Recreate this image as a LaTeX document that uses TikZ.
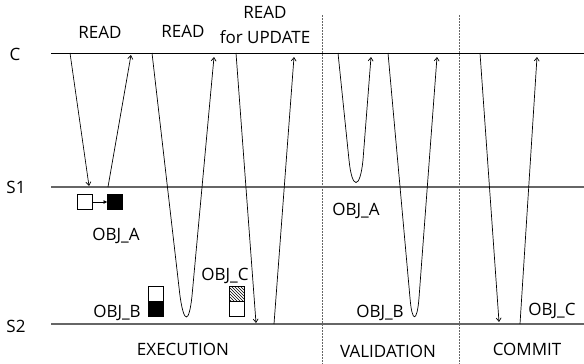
\documentclass[tikz,border=0pt]{standalone}
\usepackage{fontspec}
\setmainfont{Open Sans}
\usetikzlibrary{arrows.meta,patterns}
\begin{document}
\begin{tikzpicture}[x=1pt,y=-1pt,
  lbl/.style={anchor=base,inner sep=0pt,font=\fontsize{17}{19}\selectfont},
  lvl/.style={line width=1.2pt,draw=black!60},
  top/.style={line width=0.9pt,draw=black},
  phase/.style={line width=0.7pt,draw=black!60,dash pattern=on 1.5pt off 1.5pt},
  msg/.style={line width=0.7pt,-{Straight Barb[length=3.5pt,width=5pt]}},
  box/.style={draw=black,line width=0.6pt,minimum width=15pt,minimum height=15pt,inner sep=0pt,outer sep=0pt}]
\useasboundingbox (0,0) rectangle (584,364);
% levels
\coordinate (cL) at (51,53); \coordinate (cR) at (584,53);
\coordinate (s1L) at (51,187); \coordinate (s1R) at (584,187);
\coordinate (s2L) at (51,324); \coordinate (s2R) at (584,324);
\draw[top] (cL) -- (cR);
\draw[lvl] (s1L) -- (s1R);
\draw[lvl] (s2L) -- (s2R);
\node[lbl] (lc) at (15,60) {C};
\node[lbl] (ls1) at (16,193) {S1};
\node[lbl] (ls2) at (16,332) {S2};
% phase separators
\coordinate (d1t) at (322,15); \coordinate (d1b) at (322,364);
\coordinate (d2t) at (459,15); \coordinate (d2b) at (459,364);
\draw[phase] (d1t) -- (d1b);
\draw[phase] (d2t) -- (d2b);
% top labels
\node[lbl] (r1) at (100,38) {READ};
\node[lbl] (r2) at (183,37) {READ};
\node[lbl] (r3) at (265,18) {READ};
\node[lbl] (r3b) at (265,43) {for UPDATE};
% READ 1
\coordinate (a1) at (70,53); \coordinate (a2) at (89,186);
\coordinate (a3) at (108,187); \coordinate (a4) at (131,55);
\draw[msg] (a1) -- (a2);
\draw[msg] (a3) -- (a4);
% READ 2
\coordinate (b1) at (152,53); \coordinate (b2) at (214,57);
\draw[msg] (b1) -- (180,296) .. controls (184,324) and (189,324) .. (192,296) -- (b2);
% READ for UPDATE
\coordinate (u1) at (236,53); \coordinate (u2) at (256,323);
\coordinate (u3) at (274,324); \coordinate (u4) at (294,57);
\draw[msg] (u1) -- (u2);
\draw[msg] (u3) -- (u4);
% VALIDATION
\coordinate (v1) at (338,53); \coordinate (v2) at (371,57);
\draw[msg] (v1) -- (349,160) .. controls (352,190) and (360,190) .. (363,160) -- (v2);
\coordinate (w1) at (388,53); \coordinate (w2) at (437,57);
\draw[msg] (w1) -- (410,298) .. controls (412,323) and (417,323) .. (419,298) -- (w2);
% COMMIT
\coordinate (k1) at (480,53); \coordinate (k2) at (499,322);
\coordinate (k3) at (520,324); \coordinate (k4) at (537,57);
\draw[msg] (k1) -- (k2);
\draw[msg] (k3) -- (k4);
% objects
\node[box,fill=white] (oa1) at (84.5,202) {};
\node[box,fill=black] (oa2) at (115,202) {};
\draw[line width=0.6pt,-{Latex[length=4pt,width=4pt]}] (oa1.east) -- (oa2.west);
\node[box,fill=white] (ob1) at (155.5,293.5) {};
\node[box,fill=black,anchor=north] (ob2) at (ob1.south) {};
\node[box,pattern=north west lines] (oc1) at (237,293.5) {};
\node[box,fill=white,anchor=north] (oc2) at (oc1.south) {};
% object labels
\node[lbl] (ta1) at (116,240) {OBJ\_A};
\node[lbl] (tb1) at (117,317) {OBJ\_B};
\node[lbl] (tc1) at (225,280) {OBJ\_C};
\node[lbl] (ta2) at (356,215) {OBJ\_A};
\node[lbl] (tb2) at (380,317) {OBJ\_B};
\node[lbl] (tc2) at (552,315) {OBJ\_C};
% phase labels
\node[lbl] (pe) at (183,355) {EXECUTION};
\node[lbl] (pv) at (388,357) {VALIDATION};
\node[lbl] (pc) at (527,355) {COMMIT};
\end{tikzpicture}
\end{document}
